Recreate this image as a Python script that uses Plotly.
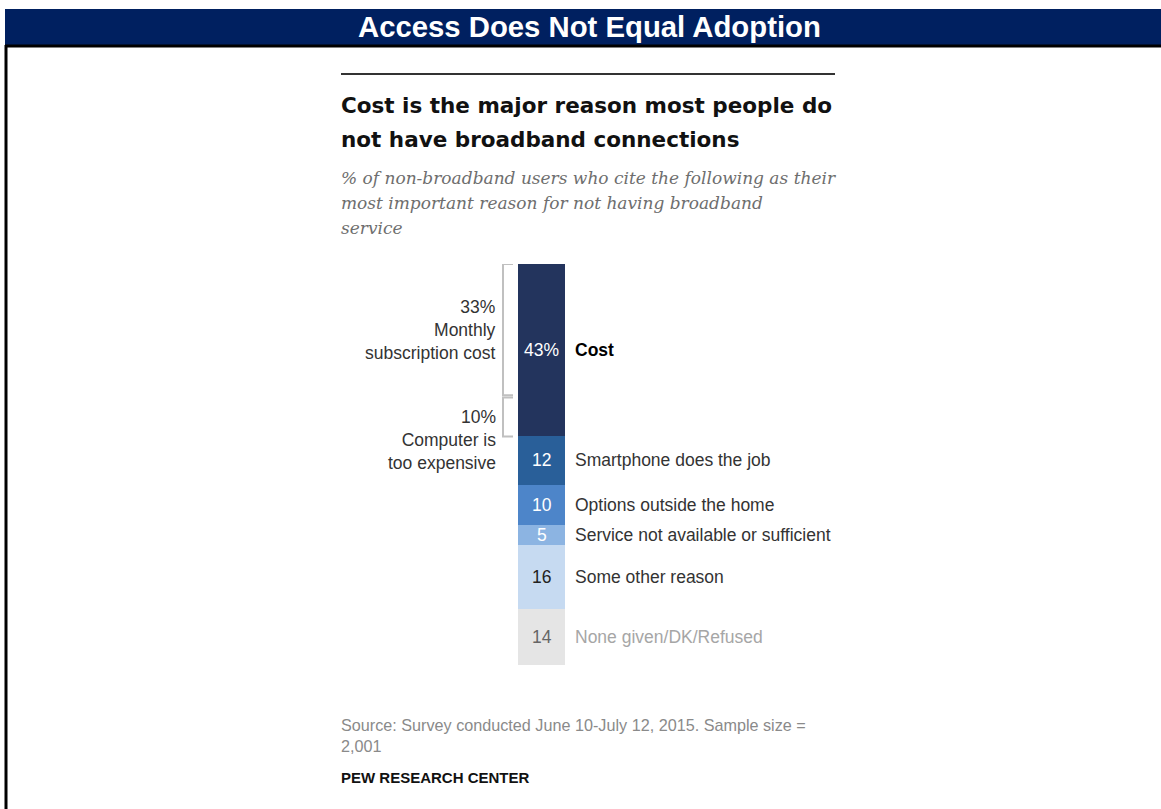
import plotly.graph_objects as go

# ---- data ----
categories = ["Cost", "Smartphone does the job", "Options outside the home",
              "Service not available or sufficient", "Some other reason",
              "None given/DK/Refused"]
values = [43, 12, 10, 5, 16, 14]
bar_labels = ["43%", "12", "10", "5", "16", "14"]
cost_parts = [33, 10]
cost_part_labels = [["33%", "Monthly", "subscription cost"],
                    ["10%", "Computer is", "too expensive"]]

colors = ["#23345d", "#295f99", "#4d85c9", "#8cb4e2", "#c6daf1", "#e5e5e5"]
inside_colors = ["#ffffff", "#ffffff", "#ffffff", "#ffffff", "#222222", "#666666"]
label_colors = ["#000000", "#333333", "#333333", "#333333", "#333333", "#a6a6a6"]

W, H = 1161, 809
def X(px): return px / W
def Y(py): return 1 - py / H

fig = go.Figure()
for cat, v, c in zip(categories, values, colors):
    fig.add_trace(go.Bar(x=[0], y=[v], name=cat, marker=dict(color=c, line=dict(width=0)),
                         width=1, hoverinfo="skip", showlegend=False))

fig.update_layout(
    width=W, height=H, margin=dict(l=0, r=0, t=0, b=0),
    paper_bgcolor="white", plot_bgcolor="white",
    barmode="stack", bargap=0,
    xaxis=dict(domain=[X(518), X(565)], range=[-0.5, 0.5], visible=False, fixedrange=True),
    yaxis=dict(domain=[Y(665), Y(264)], range=[100, 0], visible=False, fixedrange=True),
)

shapes = []
# header bar
shapes.append(dict(type="rect", xref="paper", yref="paper", x0=X(5), x1=1, y0=Y(45), y1=Y(9),
                   fillcolor="#002060", line=dict(width=0), layer="below"))
shapes.append(dict(type="line", xref="paper", yref="paper", x0=X(5), x1=1, y0=Y(46), y1=Y(46),
                   line=dict(color="#000000", width=3)))
shapes.append(dict(type="line", xref="paper", yref="paper", x0=X(6), x1=X(6), y0=Y(45), y1=0,
                   line=dict(color="#000000", width=3)))
# top rule
shapes.append(dict(type="line", xref="paper", yref="paper", x0=X(341), x1=X(835), y0=Y(74), y1=Y(74),
                   line=dict(color="#333333", width=2)))
# brackets
start = 0
for i, part in enumerate(cost_parts):
    y0 = start + (0 if i == 0 else 0.3)
    y1 = start + part - (0.3 if i == 0 else 0)
    shapes.append(dict(type="path", xref="paper", yref="y",
                       path=f"M {X(513)},{y0} L {X(503)},{y0} L {X(503)},{y1} L {X(513)},{y1}",
                       line=dict(color="#c0c0c0", width=2)))
    start += part

annotations = []
def txt(text, x, y, size, color, xanchor="left", bold=False, italic=False, family="Liberation Sans",
        xref="paper", yref="paper", yanchor="middle"):
    t = text
    if bold:
        t = f"<b>{t}</b>"
    if italic:
        t = f"<i>{t}</i>"
    annotations.append(dict(text=t, x=x, y=y, xref=xref, yref=yref, xanchor=xanchor, yanchor=yanchor,
                            showarrow=False, font=dict(size=size, color=color, family=family),
                            borderpad=0))

# header title
txt("Access Does Not Equal Adoption", X(589), Y(27), 29.3, "#ffffff", xanchor="center", bold=True,
    family="Liberation Sans")
# chart title
txt("Cost is the major reason most people do", X(340), Y(106), 21.5, "#111111", bold=True,
    family="DejaVu Sans")
txt("not have broadband connections", X(340), Y(139), 21.5, "#111111", bold=True,
    family="DejaVu Sans")
# subtitle
sub = ["% of non-broadband users who cite the following as their",
       "most important reason for not having broadband",
       "service"]
for i, s in enumerate(sub):
    txt(s, X(340), Y(178 + 25 * i), 17, "#6e6e6e", italic=True, family="DejaVu Serif")

# bar labels (inside) and category labels (right)
cum = 0
for v, lab, ic, cat, lc in zip(values, bar_labels, inside_colors, categories, label_colors):
    mid = cum + v / 2
    txt(lab, 0, mid, 17.5, ic, xanchor="center", xref="x", yref="y")
    txt(cat, X(574), mid, 17.5, lc, bold=(cat == "Cost"), yref="y")
    cum += v

# left bracket labels
txt("<br>".join(cost_part_labels[0]), X(497), cost_parts[0] / 2, 17.5, "#333333", xanchor="right", yref="y")
annotations[-1]["align"] = "right"
txt("<br>".join(cost_part_labels[1]), X(497), sum(cost_parts), 17.5, "#333333", xanchor="right", yref="y")
annotations[-1]["align"] = "right"
annotations[-1]["yshift"] = -4

# source
txt("Source: Survey conducted June 10-July 12, 2015. Sample size =", X(340), Y(725), 16.2, "#8a8a8a")
txt("2,001", X(340), Y(746), 16.2, "#8a8a8a")
txt("PEW RESEARCH CENTER", X(340), Y(777), 15, "#111111", bold=True)

fig.update_layout(shapes=shapes, annotations=annotations)
fig.write_html("out.html")
